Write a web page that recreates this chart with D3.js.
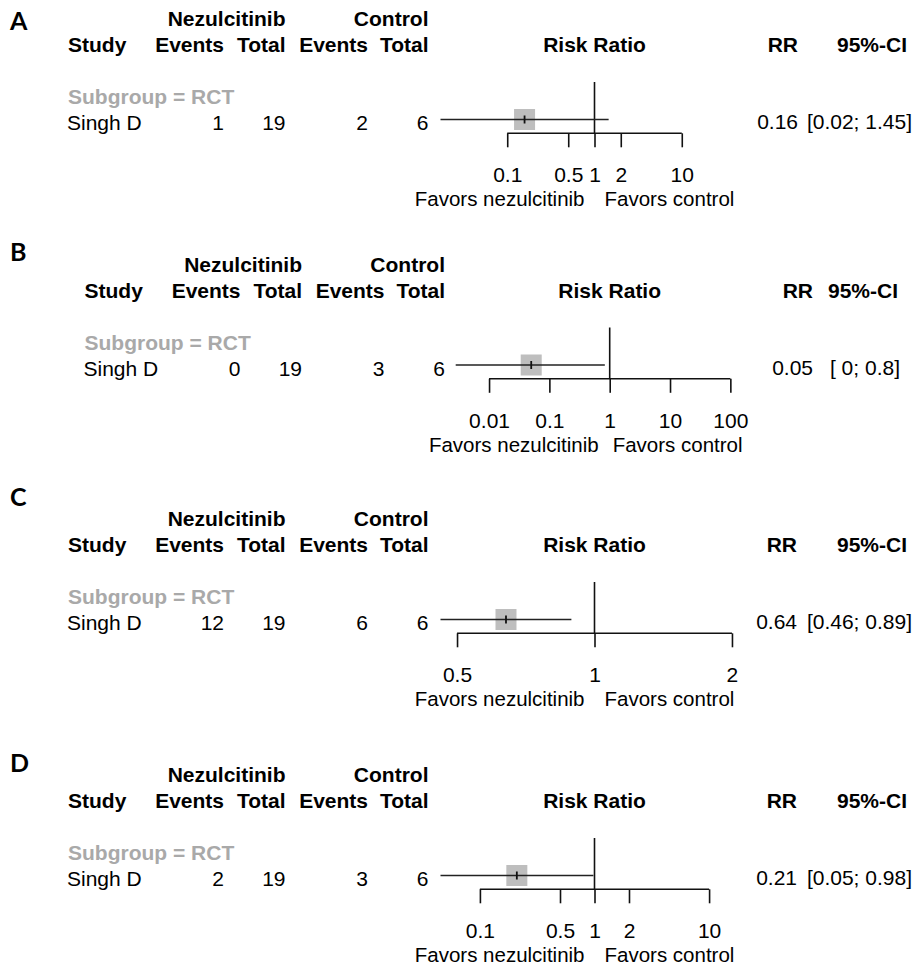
<!DOCTYPE html>
<html>
<head>
<meta charset="utf-8">
<script src="https://cdn.jsdelivr.net/npm/d3@7"></script>
<style>
  html, body { margin: 0; padding: 0; background: #fff; }
  svg text { font-family: "Liberation Sans", Arial, sans-serif; }
</style>
</head>
<body>
<svg id="chart" width="920" height="968"></svg>
<script>
// ---------------- data ----------------
const panelLetters = ["A", "B", "C", "D"];
const studyNames = ["Singh D", "Singh D", "Singh D", "Singh D"];
const subgroupLabels = ["Subgroup = RCT", "Subgroup = RCT", "Subgroup = RCT", "Subgroup = RCT"];
const nezEvents = [1, 0, 12, 2];
const nezTotal = [19, 19, 19, 19];
const ctrlEvents = [2, 3, 6, 3];
const ctrlTotal = [6, 6, 6, 6];
const rrValues = [0.158, 0.05, 0.64, 0.21];
const ciLower = [0.0172, 0.0028, 0.46, 0.0453];
const ciUpper = [1.452, 0.83, 0.89, 0.978];
const rrLabels = ["0.16", "0.05", "0.64", "0.21"];
const ciLabels = ["[0.02; 1.45]", "[ 0; 0.8]", "[0.46; 0.89]", "[0.05; 0.98]"];
const axisTicks = [
  [0.1, 0.5, 1, 2, 10],
  [0.01, 0.1, 1, 10, 100],
  [0.5, 1, 2],
  [0.1, 0.5, 1, 2, 10]
];
const labelLeft = "Favors nezulcitinib";
const labelRight = "Favors control";
const headerGroup = ["Nezulcitinib", "Control"];
const headerCols = ["Study", "Events", "Total", "Events", "Total", "Risk Ratio", "RR", "95%-CI"];

// ---------------- layout (positions only) ----------------
const layout = [
  { dy: 0,     dx: 0,    letterY: 30,  center: 594.5, rrR: 798, ciHeadR: 907, ciR: 912, gapL: 10, gapR: 10 },
  { dy: 245.5, dx: 16.5, letterY: 261, center: 609.7, rrR: 813, ciHeadR: 898, ciR: 900, gapL: 11, gapR: 3 },
  { dy: 500,   dx: 0,    letterY: 506, center: 594.5, rrR: 797, ciHeadR: 907, ciR: 912, gapL: 10, gapR: 10 },
  { dy: 756,   dx: 0,    letterY: 772, center: 594.5, rrR: 797, ciHeadR: 907, ciR: 912, gapL: 10, gapR: 10 }
];
const colX = { study: 68, ev1: 224, tot1: 285.5, ev2: 368, tot2: 428.5 };
const halfWidth = 154;
const FS = 21;

const svg = d3.select("#chart");

panelLetters.forEach((letter, i) => {
  const L = layout[i];
  const g = svg.append("g").attr("transform", `translate(0,${L.dy})`);

  // panel letter
  svg.append("text")
    .attr("x", 10).attr("y", L.letterY)
    .style("font-family", "Lato, 'Open Sans', sans-serif")
    .style("font-weight", "bold").style("font-size", "25px")
    .text(letter);

  const txt = (x, y, s, anchor, bold, color, size) =>
    g.append("text").attr("x", x).attr("y", y)
      .attr("text-anchor", anchor || "start")
      .style("font-size", (size || FS) + "px")
      .style("font-weight", bold ? "bold" : "normal")
      .attr("fill", color || "#000")
      .text(s);

  const dx = L.dx;
  // header row 1
  txt(colX.tot1 + dx, 26, headerGroup[0], "end", true);
  txt(colX.tot2 + dx, 26, headerGroup[1], "end", true);
  // header row 2
  txt(colX.study + dx, 52, headerCols[0], "start", true);
  txt(colX.ev1 + dx, 52, headerCols[1], "end", true);
  txt(colX.tot1 + dx, 52, headerCols[2], "end", true);
  txt(colX.ev2 + dx, 52, headerCols[3], "end", true);
  txt(colX.tot2 + dx, 52, headerCols[4], "end", true);
  txt(L.center, 52, headerCols[5], "middle", true);
  txt(L.rrR, 52, headerCols[6], "end", true);
  txt(L.ciHeadR, 52, headerCols[7], "end", true);

  // subgroup label
  txt(colX.study + dx, 104, subgroupLabels[i], "start", true, "#a9a9a9");

  // study row
  txt(colX.study - 1 + dx, 130, studyNames[i], "start");
  txt(colX.ev1 + dx, 130, String(nezEvents[i]), "end");
  txt(colX.tot1 + dx, 130, String(nezTotal[i]), "end");
  txt(colX.ev2 + dx, 130, String(ctrlEvents[i]), "end");
  txt(colX.tot2 + dx, 130, String(ctrlTotal[i]), "end");
  txt(L.rrR, 129, rrLabels[i], "end");
  txt(L.ciR, 129, ciLabels[i], "end");

  // symmetric log x-limits around 1 (as in meta::forest)
  const m = d3.max([ciLower[i], ciUpper[i]], v => Math.abs(Math.log10(v)));
  const x = d3.scaleLog()
    .domain([Math.pow(10, -m), Math.pow(10, m)])
    .range([L.center - halfWidth, L.center + halfWidth]);

  const ciY = 119.5, refTop = 82, axisY = 133.3, tickLen = 14;

  // reference line at 1
  g.append("line")
    .attr("x1", x(1)).attr("x2", x(1))
    .attr("y1", refTop).attr("y2", axisY)
    .attr("stroke", "#111").attr("stroke-width", 1.6);

  // axis
  const ticks = axisTicks[i];
  const axis = d3.axisBottom(x)
    .tickValues(ticks)
    .tickSize(tickLen)
    .tickSizeOuter(0)
    .tickPadding(20)
    .tickFormat(d => String(d));
  const ag = g.append("g").attr("transform", `translate(0,${axisY})`).call(axis);
  ag.select(".domain").remove();
  ag.selectAll(".tick line").attr("stroke", "#111").attr("stroke-width", 1.6);
  ag.selectAll(".tick text")
    .attr("fill", "#000")
    .style("font-size", FS + "px")
    .style("font-family", "'Liberation Sans', Arial, sans-serif");
  ag.append("line")
    .attr("x1", x(d3.min(ticks))).attr("x2", x(d3.max(ticks)))
    .attr("y1", 0).attr("y2", 0)
    .attr("stroke", "#111").attr("stroke-width", 1.6);

  // square
  const sq = 21;
  g.append("rect")
    .attr("x", x(rrValues[i]) - sq / 2).attr("y", ciY - sq / 2)
    .attr("width", sq).attr("height", sq)
    .attr("fill", "#bebebe");

  // CI line
  g.append("line")
    .attr("x1", x(ciLower[i])).attr("x2", x(ciUpper[i]))
    .attr("y1", ciY).attr("y2", ciY)
    .attr("stroke", "#222").attr("stroke-width", 1.5);

  // estimate tick
  g.append("line")
    .attr("x1", x(rrValues[i])).attr("x2", x(rrValues[i]))
    .attr("y1", ciY - 4).attr("y2", ciY + 4)
    .attr("stroke", "#111").attr("stroke-width", 1.8);

  // favours labels
  txt(x(1) - L.gapL, 206, labelLeft, "end", false, "#000", 20.5);
  txt(x(1) + L.gapR, 206, labelRight, "start", false, "#000", 20.5);
});
</script>
</body>
</html>
